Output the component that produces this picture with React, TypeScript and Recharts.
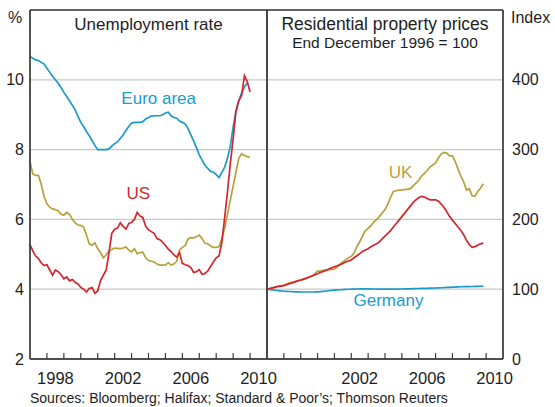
import React from "react";
import { LineChart, Line, XAxis, YAxis, CartesianGrid, ReferenceLine } from "recharts";

const START_YEAR = 1997;
const END_YEAR = 2011;

// bimonthly observations, Jan 1997 onwards
const periods = Array.from({ length: 79 }, (_, i) => START_YEAR + i / 6);

// Unemployment rate, %
const euroArea = [
  10.67, 10.62, 10.57, 10.55, 10.5, 10.45, 10.33, 10.22, 10.1, 10.0, 9.9, 9.78,
  9.64, 9.52, 9.4, 9.27, 9.14, 8.95, 8.78, 8.66, 8.52, 8.4, 8.26, 8.12,
  8.0, 8.0, 8.0, 8.0, 8.02, 8.1, 8.17, 8.22, 8.32, 8.42, 8.55, 8.66,
  8.76, 8.78, 8.78, 8.78, 8.8, 8.88, 8.92, 8.96, 8.97, 8.97, 8.97, 9.0,
  9.05, 9.07, 8.97, 8.92, 8.9, 8.82, 8.78, 8.74, 8.6, 8.42, 8.25, 8.05,
  7.85, 7.7, 7.55, 7.46, 7.38, 7.35, 7.28, 7.2, 7.35, 7.5, 7.75, 8.1,
  8.65, 9.1, 9.4, 9.62, 9.8, 9.9, null,
];
const usUnemployment = [
  5.28, 5.1, 4.95, 4.88, 4.75, 4.68, 4.7, 4.55, 4.4, 4.55, 4.5, 4.42,
  4.3, 4.35, 4.24, 4.28, 4.2, 4.15, 4.05, 4.0, 3.92, 4.02, 4.05, 3.88,
  3.95, 4.25, 4.4, 4.55, 5.05, 5.6, 5.72, 5.75, 5.9, 5.8, 5.72, 5.88,
  5.92, 6.0, 6.2, 6.1, 6.05, 5.8, 5.7, 5.65, 5.6, 5.45, 5.42, 5.35,
  5.25, 5.15, 5.08, 4.98, 4.92, 5.05, 4.74, 4.7, 4.68, 4.62, 4.48, 4.5,
  4.56, 4.42, 4.45, 4.52, 4.65, 4.78, 4.9, 4.95, 5.35, 6.05, 6.8, 7.6,
  8.3, 9.1, 9.4, 9.55, 10.12, 9.95, 9.65,
];
const ukUnemployment = [
  7.65, 7.3, 7.26, 7.26, 7.0, 6.65, 6.45, 6.35, 6.3, 6.28, 6.25, 6.15,
  6.12, 6.2, 6.15, 6.0, 5.9, 5.84, 5.83, 5.78, 5.55, 5.3, 5.26, 5.33,
  5.16, 5.05, 4.9, 4.98, 5.1, 5.14, 5.18, 5.17, 5.16, 5.18, 5.21, 5.12,
  5.07, 5.16, 5.02, 5.05, 5.06, 4.9, 4.82, 4.8, 4.78, 4.72, 4.69, 4.69,
  4.69, 4.76, 4.69, 4.72, 4.8, 5.12, 5.2, 5.25, 5.44, 5.48, 5.47, 5.5,
  5.55, 5.45, 5.32, 5.3, 5.24, 5.2, 5.2, 5.22, 5.45, 5.75, 6.15, 6.55,
  6.95, 7.35, 7.75, 7.88, 7.83, 7.8, 7.78,
];

// Residential property prices, end December 1996 = 100
const ukPrices = [
  100, 101, 102, 103, 104, 105, 106, 107.5, 109, 110, 111, 112.5,
  113, 114, 115, 117, 119, 122, 126, 126, 127, 127.5, 128, 128,
  128.5, 132, 136, 139, 142, 145, 147, 152, 161, 168, 176, 184,
  187, 191, 196, 200, 204, 209, 214, 222, 232, 240, 241, 242,
  242, 243, 243, 244, 248, 252, 256, 262, 266, 270, 275, 278,
  281, 288, 294, 296, 295, 291, 291, 283, 272, 262, 254, 242,
  244, 234, 233, 240, 245, 251, null,
];
const usPrices = [
  100, 101, 102, 103, 104, 104.5, 105, 106.5, 108, 109, 110.5, 112,
  113, 114.5, 116, 117.5, 119, 120.5, 122, 124, 125.5, 127, 129, 130.5,
  132, 133.5, 135, 137, 139, 140.5, 142, 145, 148, 151, 154, 156,
  158, 161, 163, 165, 168, 172, 176, 180, 184, 189, 194, 199,
  204, 209, 214, 219, 224, 228, 231, 233, 232, 230, 228, 228,
  228, 226, 222, 217, 211, 204, 199, 194, 189, 184, 178, 170,
  164, 160, 161, 163, 165, 166, null,
];
const germanyPrices = [
  100, 99.5, 99, 98.5, 98, 97.5, 97.2, 97, 96.7, 96.5, 96.3, 96.2,
  96, 96, 96, 96, 96, 96.1, 96.3, 96.6, 97, 97.4, 97.8, 98.2,
  98.6, 98.9, 99.2, 99.5, 99.7, 99.9, 100, 100.2, 100.3, 100.4, 100.5, 100.5,
  100.5, 100.4, 100.3, 100.2, 100.2, 100.1, 100, 100, 100, 100, 100.1, 100.2,
  100.3, 100.4, 100.5, 100.6, 100.7, 100.8, 101, 101.1, 101.2, 101.3, 101.4, 101.5,
  101.7, 101.9, 102.1, 102.3, 102.5, 102.7, 102.9, 103.1, 103.3, 103.5, 103.6, 103.7,
  103.8, 103.9, 104, 104.1, 104.2, 104.3, null,
];

const yearTicks = [1997, 1998, 1999, 2000, 2001, 2002, 2003, 2004, 2005, 2006, 2007, 2008, 2009, 2010, 2011];
const leftYearLabels = [1998, 2002, 2006, 2010];
const rightYearLabels = [2002, 2006, 2010];
const rateTicks = [2, 4, 6, 8, 10];
const rateDomain = [2, 12];
const indexTicks = [0, 100, 200, 300, 400];
const indexDomain = [0, 500];

const BLUE = "#1a9bc9";
const RED = "#d2272e";
const OLIVE = "#b7a13a";
const FRAME = "#3c3c3c";
const GRID = "#c6cacd";
const TEXT = "#1e1e1e";
const FONT = "'Liberation Sans', Arial, sans-serif";

const CHART_H = 407;
const TOP = 10;
const AXIS_H = 48;
const PLOT_BOTTOM = CHART_H - AXIS_H;
const LEFT_PLOT_X = 30;
const LEFT_PLOT_W = 237;
const RIGHT_PLOT_X = 267;
const RIGHT_PLOT_W = 236;
const TICK_LEN = 6;

const unemploymentData = periods.map((t, i) => ({
  t,
  euro: euroArea[i],
  us: usUnemployment[i],
  uk: ukUnemployment[i],
}));

const pricesData = periods.map((t, i) => ({
  t,
  uk: ukPrices[i],
  us: usPrices[i],
  de: germanyPrices[i],
}));

function YearLabel(props: any) {
  const { x, y, payload, labels, halfYear } = props;
  const yr = payload.value;
  if (!labels.includes(yr)) return <g />;
  return (
    <text x={x + halfYear} y={y + 25} textAnchor="middle" fontSize={16.5} fill={TEXT} fontFamily={FONT}>
      {yr}
    </text>
  );
}

const tickText = { fontSize: 16, fill: TEXT, fontFamily: FONT };

function frame(yDomain: number[]) {
  return [
    <ReferenceLine key="l" x={START_YEAR} stroke={FRAME} strokeWidth={1.5} />,
    <ReferenceLine key="r" x={END_YEAR} stroke={FRAME} strokeWidth={1.5} />,
    <ReferenceLine key="t" y={yDomain[1]} stroke={FRAME} strokeWidth={1.5} />,
    <ReferenceLine key="b" y={yDomain[0]} stroke={FRAME} strokeWidth={1.5} />,
  ];
}

// inward year marks along the bottom edge of a panel
function yearMarks(plotX: number, plotW: number, key: string) {
  const span = END_YEAR - START_YEAR;
  return yearTicks
    .filter((yr) => yr > START_YEAR && yr < END_YEAR)
    .map((yr) => {
      const x = plotX + ((yr - START_YEAR) / span) * plotW;
      return <line key={`${key}${yr}`} x1={x} x2={x} y1={PLOT_BOTTOM} y2={PLOT_BOTTOM - TICK_LEN} stroke={FRAME} strokeWidth={1.2} />;
    });
}

function UnemploymentPanel() {
  const halfYear = LEFT_PLOT_W / (END_YEAR - START_YEAR) / 2;
  return (
    <LineChart width={290} height={CHART_H} data={unemploymentData} margin={{ top: TOP, right: 23, bottom: 0, left: 0 }}>
      <CartesianGrid horizontal vertical={false} stroke={GRID} strokeWidth={1.3} />
      <XAxis
        dataKey="t"
        type="number"
        domain={[START_YEAR, END_YEAR]}
        ticks={yearTicks}
        interval={0}
        height={AXIS_H}
        tickSize={0}
        tickMargin={0}
        stroke={FRAME}
        tick={(p: any) => <YearLabel {...p} labels={leftYearLabels} halfYear={halfYear} />}
      />
      <YAxis
        type="number"
        domain={rateDomain}
        ticks={rateTicks}
        interval={0}
        width={30}
        tickLine={false}
        tickSize={0}
        tickMargin={6}
        stroke={FRAME}
        tick={tickText}
      />
      <Line dataKey="euro" stroke={BLUE} strokeWidth={1.7} dot={false} isAnimationActive={false} />
      <Line dataKey="uk" stroke={OLIVE} strokeWidth={1.7} dot={false} isAnimationActive={false} />
      <Line dataKey="us" stroke={RED} strokeWidth={1.7} dot={false} isAnimationActive={false} />
      {frame(rateDomain)}
    </LineChart>
  );
}

function PricesPanel() {
  const halfYear = RIGHT_PLOT_W / (END_YEAR - START_YEAR) / 2;
  return (
    <LineChart width={289} height={CHART_H} data={pricesData} margin={{ top: TOP, right: 0, bottom: 0, left: 1 }}>
      <CartesianGrid horizontal vertical={false} stroke={GRID} strokeWidth={1.3} />
      <XAxis
        dataKey="t"
        type="number"
        domain={[START_YEAR, END_YEAR]}
        ticks={yearTicks}
        interval={0}
        height={AXIS_H}
        tickSize={0}
        tickMargin={0}
        stroke={FRAME}
        tick={(p: any) => <YearLabel {...p} labels={rightYearLabels} halfYear={halfYear} />}
      />
      <YAxis
        orientation="right"
        type="number"
        domain={indexDomain}
        ticks={indexTicks}
        interval={0}
        width={52}
        tickLine={false}
        tickSize={0}
        tickMargin={9}
        stroke={FRAME}
        tick={tickText}
      />
      <Line dataKey="de" stroke={BLUE} strokeWidth={1.7} dot={false} isAnimationActive={false} />
      <Line dataKey="uk" stroke={OLIVE} strokeWidth={1.7} dot={false} isAnimationActive={false} />
      <Line dataKey="us" stroke={RED} strokeWidth={1.7} dot={false} isAnimationActive={false} />
      {frame(indexDomain)}
    </LineChart>
  );
}

export default function App() {
  return (
    <div style={{ position: "absolute", left: 0, top: 0, width: 555, height: CHART_H, background: "#fff", overflow: "hidden" }}>
      <div style={{ position: "absolute", left: 0, top: 0 }}>
        <UnemploymentPanel />
      </div>
      <div style={{ position: "absolute", left: 266, top: 0 }}>
        <PricesPanel />
      </div>
      <svg width={555} height={CHART_H} style={{ position: "absolute", left: 0, top: 0, pointerEvents: "none" }} fontFamily={FONT}>
        {yearMarks(LEFT_PLOT_X, LEFT_PLOT_W, "l")}
        {yearMarks(RIGHT_PLOT_X, RIGHT_PLOT_W, "r")}
        <text x={8} y={23} fontSize={16} fill={TEXT}>%</text>
        <text x={511} y={23} fontSize={16} fill={TEXT}>Index</text>
        <text x={148.5} y={30} fontSize={17} fill={TEXT} textAnchor="middle">Unemployment rate</text>
        <text x={385} y={30} fontSize={17.5} fill={TEXT} textAnchor="middle">Residential property prices</text>
        <text x={385} y={48} fontSize={15.5} fill={TEXT} textAnchor="middle">End December 1996 = 100</text>
        <text x={158.7} y={104} fontSize={17} fill={BLUE} textAnchor="middle">Euro area</text>
        <text x={138.3} y={199} fontSize={17} fill={RED} textAnchor="middle">US</text>
        <text x={400.5} y={178} fontSize={17} fill={OLIVE} textAnchor="middle">UK</text>
        <text x={388.5} y={306} fontSize={17} fill={BLUE} textAnchor="middle">Germany</text>
        <text x={30} y={403} fontSize={14} fill={TEXT}>Sources: Bloomberg; Halifax; Standard &amp; Poor’s; Thomson Reuters</text>
      </svg>
    </div>
  );
}
